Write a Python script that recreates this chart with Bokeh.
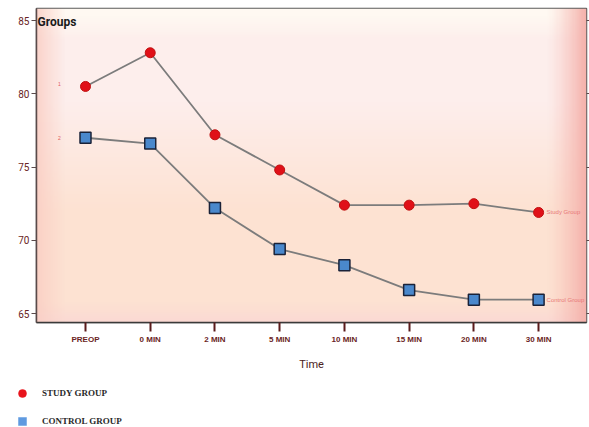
import numpy as np
from bokeh.plotting import figure
from bokeh.layouts import column
from bokeh.models import (Range1d, FixedTicker, LinearAxis, Label, Legend,
                          LegendItem)
from bokeh.core.properties import value
from bokeh.embed import file_html
from bokeh.resources import INLINE

# ---- data ----
time_labels = ["PREOP", "0 MIN", "2 MIN", "5 MIN", "10 MIN", "15 MIN", "20 MIN", "30 MIN"]
study_group = [80.5, 82.8, 77.2, 74.8, 72.4, 72.4, 72.5, 71.9]
control_group = [77.0, 76.6, 72.2, 69.4, 68.3, 66.6, 65.95, 65.95]
y_ticks = [65, 70, 75, 80, 85]
series_names = ["STUDY GROUP", "CONTROL GROUP"]

x_pos = list(range(len(time_labels)))

X0, X1 = -0.757, 7.74
Y0, Y1 = 64.39, 85.82
PXX = 550 / (X1 - X0)
PXY = 314 / (Y1 - Y0)

p = figure(width=589, height=376, x_range=Range1d(X0, X1), y_range=Range1d(Y0, Y1),
           output_backend="svg", toolbar_location=None,
           min_border_left=36, min_border_right=3, min_border_top=8, min_border_bottom=54,
           background_fill_color="white", border_fill_color="white")
p.frame_align = False
p.grid.visible = False
p.outline_line_color = "#5a5a5a"
p.outline_line_width = 1.5

# ---- gradient background ----
H, W = 160, 240
s = np.linspace(0, 1, H)[:, None]   # 0 bottom, 1 top
t = np.linspace(0, 1, W)[None, :]   # 0 left, 1 right

def mix(a, b, f):
    return a + (b - a) * f

peach = np.array([253, 226, 210], float)
pinkw = np.array([253, 238, 236], float)
topw = np.array([255, 249, 242], float)
botp = np.array([251, 218, 212], float)

img = np.zeros((H, W, 3))
for k in range(3):
    base = mix(peach[k], pinkw[k], np.clip((s - 0.35) / 0.35, 0, 1))
    base = mix(base, topw[k], np.clip((s - 0.9) / 0.08, 0, 1))
    base = mix(base, botp[k], np.clip((0.06 - s) / 0.06, 0, 1))
    base = base * np.ones_like(t)
    base = mix(base, np.array([250, 206, 196])[k], np.clip((0.05 - t) / 0.05, 0, 1) * 0.8)
    base = mix(base, np.array([245, 178, 172])[k], np.clip((t - 0.93) / 0.07, 0, 1) ** 1.3)
    img[:, :, k] = base
rgba = np.zeros((H, W), dtype=np.uint32)
view = rgba.view(dtype=np.uint8).reshape((H, W, 4))
view[:, :, 0] = img[:, :, 0].astype(np.uint8)
view[:, :, 1] = img[:, :, 1].astype(np.uint8)
view[:, :, 2] = img[:, :, 2].astype(np.uint8)
view[:, :, 3] = 255
bg = p.image_rgba(image=[rgba], x=X0, y=Y0, dw=X1 - X0, dh=Y1 - Y0)
bg.level = "underlay"

# ---- series ----
line_col = "#7c7c7c"
p.line(x_pos, study_group, line_color=line_col, line_width=1.8)
p.line(x_pos, control_group, line_color=line_col, line_width=1.8)
study_style = dict(marker="circle", fill_color="#e01018", line_color="#c01010", line_width=1)
ctrl_style = dict(marker="square", fill_color="#4a88cc", line_color="#1a2238", line_width=1.5)
p.scatter(x_pos, study_group, size=10, **study_style)
p.scatter(x_pos, control_group, size=11, **ctrl_style)

# end labels
p.text(x=[x_pos[-1]], y=[study_group[-1]], text=["Study Group"], x_offset=8,
       text_baseline="middle", text_font_size="6px", text_color="#e87878",
       text_font=value("Liberation Sans"))
p.text(x=[x_pos[-1]], y=[control_group[-1]], text=["Control Group"], x_offset=8,
       text_baseline="middle", text_font_size="6px", text_color="#e87878",
       text_font=value("Liberation Sans"))

# small series index marks
p.add_layout(Label(x=x_pos[0] - 26 / PXX, y=study_group[0] + 2 / PXY, text="1",
                   text_font_size="5px", text_color="#e06060", text_align="center",
                   text_baseline="middle"))
p.add_layout(Label(x=x_pos[0] - 26 / PXX, y=control_group[0], text="2",
                   text_font_size="5px", text_color="#e06060", text_align="center",
                   text_baseline="middle"))

# title "Groups"
p.add_layout(Label(x=X0 + 1 / PXX, y=Y1 - 6 / PXY, text="Groups",
                   text_font="Roboto", text_font_size="12px",
                   text_font_style="bold", text_color="#1a1a1a",
                   text_align="left", text_baseline="top"))

# ---- axes ----
maroon = "#6a2424"
yax = p.yaxis[0]
yax.ticker = FixedTicker(ticks=y_ticks)
yax.major_tick_out = 5
yax.major_tick_in = 0
yax.minor_tick_out = 0
yax.minor_tick_in = 0
yax.axis_line_color = "#5a4a4a"
yax.axis_line_width = 1.5
yax.major_tick_line_color = "#5a4a4a"
yax.major_label_text_font = "Roboto"
yax.major_label_text_font_size = "10px"
yax.major_label_text_color = maroon
yax.major_label_standoff = 2

rax = LinearAxis(ticker=FixedTicker(ticks=y_ticks),
                 major_label_overrides={v: "" for v in y_ticks},
                 major_tick_out=3, major_tick_in=0, minor_tick_out=0, minor_tick_in=0,
                 axis_line_color=None, major_tick_line_color="#5a4a4a",
                 major_label_standoff=0)
p.add_layout(rax, "right")

xax = p.xaxis[0]
xax.ticker = FixedTicker(ticks=x_pos)
xax.major_label_overrides = {i: lab for i, lab in zip(x_pos, time_labels)}
xax.major_tick_out = 9
xax.major_tick_in = 0
xax.minor_tick_out = 0
xax.minor_tick_in = 0
xax.major_tick_line_color = "#5a1a1a"
xax.major_tick_line_width = 2
xax.axis_line_color = "#3a3a3a"
xax.axis_line_width = 1.5
xax.major_label_text_font = "Liberation Sans"
xax.major_label_text_font_style = "bold"
xax.major_label_text_font_size = "8px"
xax.major_label_text_color = maroon
xax.major_label_standoff = 3
xax.axis_label = "Time"
xax.axis_label_text_font = "Roboto"
xax.axis_label_text_font_style = "normal"
xax.axis_label_text_font_size = "11px"
xax.axis_label_text_color = "#4a2222"
xax.axis_label_standoff = 11

# ---- legend (separate strip below the chart) ----
lg = figure(width=589, height=51, x_range=Range1d(0, 1), y_range=Range1d(0, 1),
            output_backend="svg", toolbar_location=None,
            x_axis_location=None, y_axis_location=None, min_border=0,
            min_border_left=0, min_border_right=0, min_border_top=0, min_border_bottom=0,
            outline_line_color=None, background_fill_color="white",
            border_fill_color="white")
lg.frame_align = False
lg.grid.visible = False
nan_pt = np.array([np.nan])
r_study_leg = lg.scatter(x=nan_pt, y=nan_pt, marker="circle", fill_color="#e8141c",
                         line_color="#e8141c", line_width=0.5)
r_ctrl_leg = lg.scatter(x=nan_pt, y=nan_pt, marker="square", fill_color="#5f9ae0",
                        line_color="#5f9ae0", line_width=0.5)
legend = Legend(items=[LegendItem(label=series_names[0], renderers=[r_study_leg], index=0),
                       LegendItem(label=series_names[1], renderers=[r_ctrl_leg], index=0)],
                location=(12, -4), orientation="vertical",
                glyph_width=20, glyph_height=20, label_height=20, spacing=8,
                padding=0, margin=0, label_standoff=10,
                border_line_alpha=0, background_fill_alpha=0,
                label_text_font="Liberation Serif", label_text_font_size="9px",
                label_text_font_style="bold",
                label_text_color="#2a2a2a")
lg.add_layout(legend, "center")

layout = column(p, lg, spacing=0)
open("out.html", "w").write(file_html(layout, INLINE))
